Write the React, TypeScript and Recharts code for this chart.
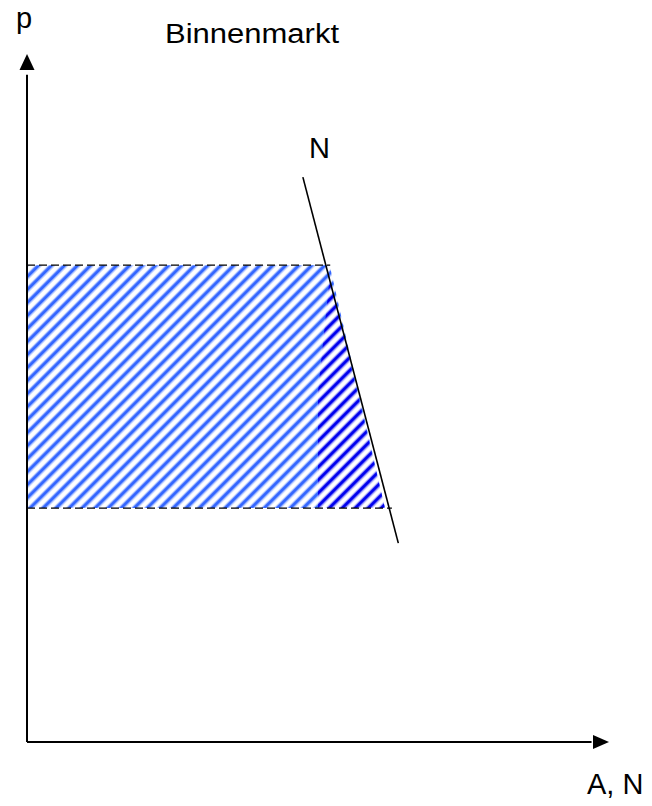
import React from 'react';
import { ComposedChart, XAxis, YAxis, Area, Line, ReferenceLine, ReferenceDot } from 'recharts';

// Labels
const title = 'Binnenmarkt';
const yLabel = 'p';
const xLabel = 'A, N';
const curveLabel = 'N';

// Demand curve N (quantity, price)
const nQuantity = [47.4, 63.8];
const nPrice = [82.1, 28.9];

// Price levels (upper / lower)
const priceHigh = 69.3;
const priceLow = 34.0;

// Hatched area outline (quantity breakpoints and upper price at each)
const lightQ = [0, 52.0, 61.5];
const lightTop = [69.3, 69.3, 34.0];
const darkQ = [50.0, 52.0, 61.5];
const darkTop = [50.9, 67.5, 34.0];

// Dashed line ends
const highEnd = 52.1;
const lowEnd = 62.7;

const nData = nQuantity.map((q, i) => ({ x: q, y: nPrice[i] }));
const lightData = lightQ.map((q, i) => ({ x: q, range: [priceLow, lightTop[i]] }));
const darkData = darkQ.map((q, i) => ({ x: q, range: [priceLow, darkTop[i]] }));

const W = 652;
const H = 806;
const margin = { top: 54, right: 43, bottom: 64, left: 27 };

const font = '"Liberation Sans", Arial, sans-serif';

const UpArrow = (props: any) => {
  const { cx, cy } = props;
  return <polygon points={`${cx},${cy} ${cx - 7.5},${cy + 16} ${cx + 7.5},${cy + 16}`} fill="#000" />;
};
const RightArrow = (props: any) => {
  const { cx, cy } = props;
  return <polygon points={`${cx},${cy} ${cx - 16},${cy - 7} ${cx - 16},${cy + 7}`} fill="#000" />;
};

const P = 9.2;
const stripes = (id: string, color: string) => (
  <pattern id={id} patternUnits="userSpaceOnUse" width={P} height={10} patternTransform="rotate(45)">
    <rect x={0} y={0} width={P} height={10} fill="#fff" />
    <rect x={0.8} y={0} width={1.1} height={10} fill={color} opacity={0.4} />
    <rect x={1.9} y={0} width={3.0} height={10} fill={color} />
    <rect x={4.9} y={0} width={1.1} height={10} fill={color} opacity={0.4} />
  </pattern>
);

export default function App() {
  return (
    <div style={{ position: 'absolute', left: 0, top: 0, width: W, height: H, background: '#fff' }}>
      <ComposedChart width={W} height={H} margin={margin}>
        <defs>
          {stripes('hatchLight', '#3366ff')}
          {stripes('hatchDark', '#0000ee')}
        </defs>
        <XAxis type="number" dataKey="x" domain={[0, 100]} hide allowDataOverflow />
        <YAxis type="number" domain={[0, 100]} hide allowDataOverflow />
        <Area
          data={lightData}
          dataKey="range"
          type="linear"
          stroke="none"
          fill="url(#hatchLight)"
          fillOpacity={1}
          isAnimationActive={false}
          dot={false}
          activeDot={false}
        />
        <Area
          data={darkData}
          dataKey="range"
          type="linear"
          stroke="none"
          fill="url(#hatchDark)"
          fillOpacity={1}
          isAnimationActive={false}
          dot={false}
          activeDot={false}
        />
        <ReferenceLine
          segment={[{ x: 0, y: priceHigh }, { x: highEnd, y: priceHigh }]}
          stroke="#000"
          strokeWidth={1.2}
          strokeDasharray="8 4"
        />
        <ReferenceLine
          segment={[{ x: 0, y: priceLow }, { x: lowEnd, y: priceLow }]}
          stroke="#000"
          strokeWidth={1.2}
          strokeDasharray="8 4"
        />
        <Line
          data={nData}
          dataKey="y"
          type="linear"
          stroke="#000"
          strokeWidth={1.6}
          dot={false}
          activeDot={false}
          isAnimationActive={false}
        />
        <ReferenceLine segment={[{ x: 0, y: 0 }, { x: 0, y: 97 }]} stroke="#000" strokeWidth={2} />
        <ReferenceLine segment={[{ x: 0, y: 0 }, { x: 97, y: 0 }]} stroke="#000" strokeWidth={2} />
        <ReferenceDot x={0} y={100} r={0} shape={UpArrow} />
        <ReferenceDot x={100} y={0} r={0} shape={RightArrow} />
        <text x={16} y={28} fontFamily={font} fontSize={29} fill="#000">{yLabel}</text>
        <text x={165} y={43} fontFamily={font} fontSize={27} fill="#000" textLength={174} lengthAdjust="spacingAndGlyphs">{title}</text>
        <text x={309} y={158} fontFamily={font} fontSize={29} fill="#000">{curveLabel}</text>
        <text x={587} y={794} fontFamily={font} fontSize={29} fill="#000">{xLabel}</text>
      </ComposedChart>
    </div>
  );
}
